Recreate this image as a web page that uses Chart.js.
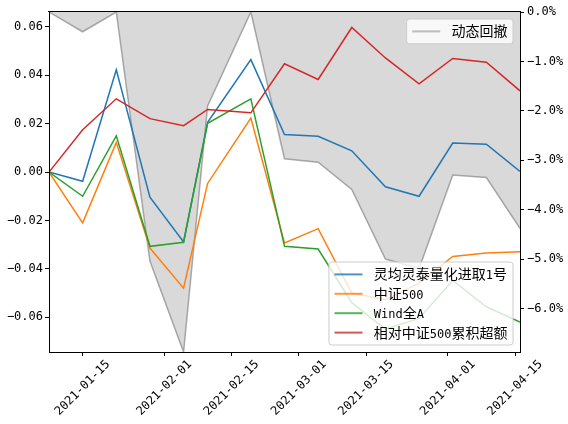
<!DOCTYPE html>
<html>
<head>
<meta charset="utf-8">
<script src="https://cdn.jsdelivr.net/npm/chart.js@4.4.1/dist/chart.umd.min.js"></script>
<style>
html,body{margin:0;padding:0;background:#fff;}
canvas{display:block;}
</style>
</head>
<body>
<canvas id="c" width="568" height="424" style="width:568px;height:424px"></canvas>
<script>
// ---- data ----
const dates = ['2021-01-08','2021-01-15','2021-01-22','2021-01-29','2021-02-05','2021-02-10','2021-02-19','2021-02-26','2021-03-05','2021-03-12','2021-03-19','2021-03-26','2021-04-02','2021-04-09','2021-04-16'];
const seriesNames = ['灵均灵泰量化进取1号','中证500','Wind全A','相对中证500累积超额'];
const drawdownName = '动态回撤';
const fundValues   = [0, -0.0038, 0.0423, -0.0104, -0.0289, 0.0206, 0.0465, 0.0155, 0.0148, 0.0088, -0.0061, -0.0100, 0.0120, 0.0115, 0.0003];
const csi500Values = [0, -0.0210, 0.0123, -0.0314, -0.0480, -0.0047, 0.0223, -0.0293, -0.0234, -0.0500, -0.0528, -0.0459, -0.0349, -0.0335, -0.0329];
const windAValues  = [0, -0.0100, 0.0150, -0.0307, -0.0290, 0.0202, 0.0303, -0.0307, -0.0318, -0.0540, -0.0650, -0.0605, -0.0448, -0.0557, -0.0620];
const excessValues = [0, 0.0175, 0.0303, 0.0221, 0.0192, 0.0259, 0.0245, 0.0448, 0.0383, 0.0598, 0.0472, 0.0365, 0.0470, 0.0454, 0.0336];
const drawdownValues = [0, -0.40, 0, -5.04, -6.88, -1.90, 0, -2.97, -3.04, -3.59, -5.00, -5.19, -3.30, -3.35, -4.38]; // percent
const xTickLabels = ['2021-01-15','2021-02-01','2021-02-15','2021-03-01','2021-03-15','2021-04-01','2021-04-15'];
const leftTicks = [0.06, 0.04, 0.02, 0, -0.02, -0.04, -0.06];
const rightTicks = [0, -1, -2, -3, -4, -5, -6];
const leftRange = [-0.0744, 0.0662];
const rightRange = [-6.88, 0];

// ---- helpers ----
function toDay(s){ const p = s.split('-').map(Number); return Date.UTC(p[0], p[1]-1, p[2]) / 86400000; }
function toPts(vals){ return vals.map((v,i)=>({x: toDay(dates[i]), y: v})); }
function fmtMinus(s){ return s.replace('-', '\u2212'); }

const MONO = '"DejaVu Sans Mono", "Noto Sans CJK SC", sans-serif';
const CJK = '"Noto Sans CJK SC", sans-serif';
const colors = ['#1f77b4', '#ff7f0e', '#2ca02c', '#d62728'];
const legendColors = ['rgba(31,119,180,0.8)', 'rgba(255,127,14,0.8)', 'rgba(44,160,44,0.8)', 'rgba(214,39,40,0.8)'];
const ddLine = 'rgba(128,128,128,0.65)';
const ddLegend = 'rgba(128,128,128,0.5)';

function runs(text){ return text.match(/[\u3000-\u9fff\uff00-\uffef]+|[^\u3000-\u9fff\uff00-\uffef]+/g) || []; }
function runFont(r){ return /[\u3000-\u9fff\uff00-\uffef]/.test(r) ? '14px ' + CJK : '12px ' + MONO; }
function measureMixed(ctx, text){ let w = 0; for (const r of runs(text)) { ctx.font = runFont(r); w += ctx.measureText(r).width; } return w; }
function drawMixed(ctx, text, x, y){ ctx.textAlign = 'left'; ctx.textBaseline = 'alphabetic'; for (const r of runs(text)) { ctx.font = runFont(r); ctx.fillText(r, x, y); x += ctx.measureText(r).width; } }
function roundRect(ctx, x, y, w, h, r){ ctx.beginPath(); ctx.moveTo(x+r, y); ctx.lineTo(x+w-r, y); ctx.arcTo(x+w, y, x+w, y+r, r); ctx.lineTo(x+w, y+h-r); ctx.arcTo(x+w, y+h, x+w-r, y+h, r); ctx.lineTo(x+r, y+h); ctx.arcTo(x, y+h, x, y+h-r, r); ctx.lineTo(x, y+r); ctx.arcTo(x, y, x+r, y, r); ctx.closePath(); }

function drawLegend(ctx, items, right, top, bottom){
  let maxW = 0; for (const it of items) maxW = Math.max(maxW, measureMixed(ctx, it.label));
  const w = maxW + 50.4, pad = 12.4, rowH = 19.4;
  const h = pad*2 + rowH*(items.length-1);
  const left = right - w;
  const y0 = (top !== null) ? top : bottom - h;
  ctx.save();
  roundRect(ctx, left, y0, w, h, 2.8);
  ctx.fillStyle = 'rgba(255,255,255,0.8)'; ctx.fill();
  ctx.strokeStyle = '#cccccc'; ctx.lineWidth = 1; ctx.stroke();
  items.forEach((it, i) => {
    const cy = y0 + pad + i*rowH;
    ctx.strokeStyle = it.color; ctx.lineWidth = 2;
    ctx.beginPath(); ctx.moveTo(left+5.6, cy); ctx.lineTo(left+33.6, cy); ctx.stroke();
    ctx.fillStyle = '#000';
    drawMixed(ctx, it.label, left+44.8, cy+5);
  });
  ctx.restore();
}

const decor = {
  id: 'decor',
  afterDraw(chart){
    const {ctx, chartArea: a, scales} = chart;
    ctx.save();
    // top spine
    ctx.strokeStyle = '#000'; ctx.lineWidth = 1;
    const ty = Math.round(a.top) - 0.5;
    ctx.beginPath(); ctx.moveTo(Math.round(a.left)-1, ty); ctx.lineTo(Math.round(a.right)+1, ty); ctx.stroke();
    // x tick labels rotated 45deg, centred on tick
    ctx.fillStyle = '#000'; ctx.font = '12px ' + MONO;
    ctx.textAlign = 'center'; ctx.textBaseline = 'middle';
    for (const t of xTickLabels) {
      const x = scales.x.getPixelForValue(toDay(t));
      ctx.save(); ctx.translate(x, a.bottom + 36); ctx.rotate(-Math.PI/4); ctx.fillText(t, 0, 0); ctx.restore();
    }
    ctx.restore();
    // legends
    drawLegend(ctx, [{label: drawdownName, color: ddLegend}], a.right - 7, a.top + 7, null);
    drawLegend(ctx, seriesNames.map((n,i)=>({label: n, color: legendColors[i]})), a.right - 7, null, a.bottom - 7);
  }
};

const seriesData = [fundValues, csi500Values, windAValues, excessValues];
const datasets = seriesData.map((vals, i) => ({
  label: seriesNames[i], data: toPts(vals), yAxisID: 'y',
  borderColor: colors[i], borderWidth: 1.5, pointRadius: 0, tension: 0, fill: false, order: 4 - i
}));
datasets.push({
  label: drawdownName, data: toPts(drawdownValues), yAxisID: 'yR',
  borderColor: ddLine, backgroundColor: '#d9d9d9', borderWidth: 1.5, pointRadius: 0, tension: 0,
  fill: {value: 0}, order: 10
});

new Chart(document.getElementById('c'), {
  type: 'line',
  data: { datasets },
  options: {
    responsive: false, animation: false,
    layout: { padding: { top: 12, left: 0, right: 0, bottom: 0 } },
    plugins: { legend: { display: false }, tooltip: { enabled: false } },
    scales: {
      x: {
        type: 'linear', min: toDay(dates[0]), max: toDay(dates[dates.length-1]),
        afterBuildTicks: s => { s.ticks = xTickLabels.map(t => ({value: toDay(t)})); },
        ticks: { display: false },
        grid: { drawOnChartArea: false, drawTicks: true, tickLength: 4, tickColor: '#000' },
        border: { display: true, color: '#000', width: 1, z: 1 },
        afterFit: s => { s.height = 72; }
      },
      y: {
        type: 'linear', position: 'left', min: leftRange[0], max: leftRange[1],
        afterBuildTicks: s => { s.ticks = leftTicks.map(v => ({value: v})); },
        ticks: { callback: v => fmtMinus(Number(v).toFixed(2)), font: { family: MONO, size: 12 }, color: '#000', padding: 2 },
        grid: { drawOnChartArea: false, drawTicks: true, tickLength: 4, tickColor: '#000' },
        border: { display: true, color: '#000', width: 1, z: 1 },
        afterFit: s => { s.width = 49; }
      },
      yR: {
        type: 'linear', position: 'right', min: rightRange[0], max: rightRange[1],
        afterBuildTicks: s => { s.ticks = rightTicks.map(v => ({value: v})); },
        ticks: { callback: v => fmtMinus(Number(v).toFixed(1)) + '%', font: { family: MONO, size: 12 }, color: '#000', padding: 3 },
        grid: { drawOnChartArea: false, drawTicks: true, tickLength: 4, tickColor: '#000' },
        border: { display: true, color: '#000', width: 1, z: 1 },
        afterFit: s => { s.width = 48; }
      }
    }
  },
  plugins: [decor]
});
</script>
</body>
</html>
